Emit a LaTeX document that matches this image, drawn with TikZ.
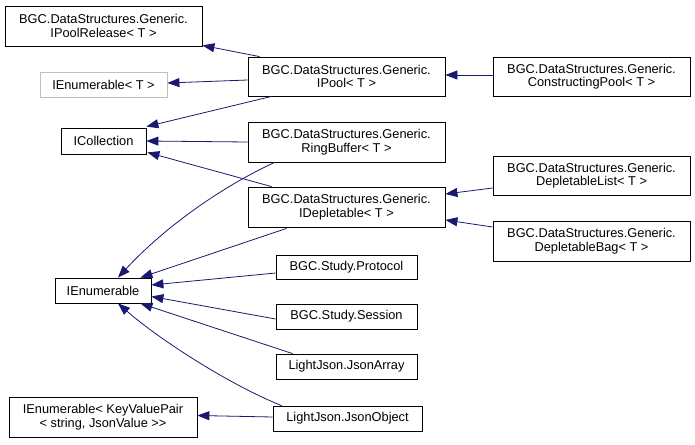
\documentclass[tikz,border=0pt]{standalone}
\usepackage{fontspec}
\setmainfont[Ligatures=NoCommon]{Liberation Sans}
\usetikzlibrary{arrows.meta,calc}
\definecolor{edgecol}{HTML}{191970}
\definecolor{grayborder}{HTML}{BFBFBF}
\tikzset{
  cls/.style={draw=black, line width=0.8pt, rectangle, inner sep=0pt, align=center,
    font=\fontsize{12.8}{13.5}\selectfont, text=black},
  inh/.style={draw=edgecol, line width=0.8pt, -{Triangle[length=12pt,width=9pt]}, color=edgecol},
}
\begin{document}
\begin{tikzpicture}[x=1pt,y=-1pt]
\useasboundingbox (0,0) rectangle (695,444);
% left column
\node[cls, minimum width=197pt, minimum height=40pt] (iprel) at (103.5,26) {BGC.DataStructures.Generic.\\IPoolRelease< T >};
\node[cls, draw=grayborder, minimum width=127pt, minimum height=25pt] (ienumT) at (103.5,84.5) {IEnumerable< T >};
\node[cls, minimum width=85pt, minimum height=26pt] (icoll) at (103.5,141) {ICollection};
\node[cls, minimum width=96pt, minimum height=25pt] (ienum) at (103,290.5) {IEnumerable};
\node[cls, minimum width=188pt, minimum height=40pt] (ienumkvp) at (103,417) {IEnumerable< KeyValuePair\\< string, JsonValue >{}>};
% middle column
\node[cls, minimum width=197pt, minimum height=39pt] (ipool) at (346.5,76.5) {BGC.DataStructures.Generic.\\IPool< T >};
\node[cls, minimum width=197pt, minimum height=40pt] (ring) at (346.5,142) {BGC.DataStructures.Generic.\\RingBuffer< T >};
\node[cls, minimum width=197pt, minimum height=40pt] (idepl) at (346.5,207) {BGC.DataStructures.Generic.\\IDepletable< T >};
\node[cls, minimum width=141pt, minimum height=24pt] (proto) at (346.5,267) {BGC.Study.Protocol};
\node[cls, minimum width=141pt, minimum height=25pt] (sess) at (346.5,316.5) {BGC.Study.Session};
\node[cls, minimum width=141pt, minimum height=25pt] (jarr) at (346.5,366.5) {LightJson.JsonArray};
\node[cls, minimum width=149pt, minimum height=25pt] (jobj) at (347.5,418.5) {LightJson.JsonObject};
% right column
\node[cls, minimum width=197pt, minimum height=39pt] (cpool) at (591.5,76.5) {BGC.DataStructures.Generic.\\ConstructingPool< T >};
\node[cls, minimum width=197pt, minimum height=39pt] (dlist) at (591.5,175.5) {BGC.DataStructures.Generic.\\DepletableList< T >};
\node[cls, minimum width=197pt, minimum height=40pt] (dbag) at (591.5,241) {BGC.DataStructures.Generic.\\DepletableBag< T >};
% edges
\draw[inh] ($(ipool.north west)+(12,0)$) -- ($(iprel.south east)+(0,-1)$);
\draw[inh] ($(ipool.west)+(0,3.5)$) -- ($(ienumT.east)+(0,-1.5)$);
\draw[inh] ($(ipool.south west)+(24,0)$) -- ($(icoll.north east)+(0,-1)$);
\draw[inh] ($(cpool.west)+(0,-1.5)$) -- ($(ipool.east)+(0,-1.5)$);
\draw[inh] (ring.west) -- (icoll.east);
\draw[inh] ($(ring.south west)+(27,0)$) .. controls (215,190) and (160,232) .. ($(ienum.north)+(15,0)$);
\draw[inh] ($(idepl.north west)+(24,0)$) -- ($(icoll.south east)+(1,-2)$);
\draw[inh] ($(idepl.south west)+(39,1)$) -- ($(ienum.north east)+(-11,0)$);
\draw[inh] ($(dlist.west)+(0,12.5)$) -- ($(idepl.east)+(0,-13)$);
\draw[inh] ($(dbag.west)+(0,-14)$) -- ($(idepl.east)+(0,13)$);
\draw[inh] ($(proto.west)+(0,6)$) -- ($(ienum.east)+(0,-5.5)$);
\draw[inh] ($(sess.west)+(0,2.5)$) -- ($(ienum.east)+(0,6)$);
\draw[inh] ($(jarr.north west)+(17,0)$) -- ($(ienum.south east)+(-11,0)$);
\draw[inh] ($(jobj.north west)+(9,0)$) .. controls (230,385) and (160,340) .. ($(ienum.south)+(15,0)$);
\draw[inh] ($(jobj.west)+(0,-1.5)$) -- ($(ienumkvp.east)+(0,-1.5)$);
\end{tikzpicture}
\end{document}
